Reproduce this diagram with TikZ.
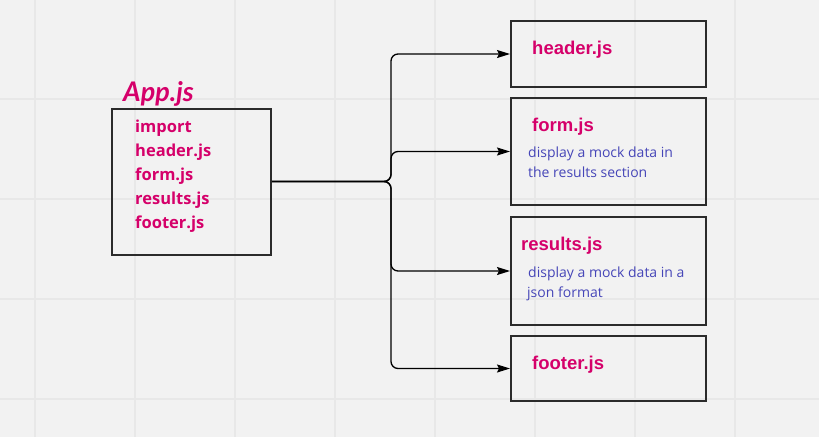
\documentclass[tikz,border=0pt]{standalone}
\usepackage{fontspec}
\usetikzlibrary{arrows.meta}
\newfontfamily\titlefont{Liberation Sans}
\newfontfamily\bodyfont{Open Sans}
\newfontfamily\handfont{Lato}

\definecolor{BoardGray}{HTML}{f2f2f2}
\definecolor{GridGray}{HTML}{e8e8e8}
\definecolor{BoxBorder}{HTML}{2b2b2b}
\definecolor{FilePink}{HTML}{d5006a}
\definecolor{NoteBlue}{HTML}{4646b8}

\tikzstyle{file-box}=[draw=BoxBorder, line width=2pt, minimum width=195pt, inner sep=0pt]
\tikzstyle{file-title}=[anchor=base west, inner sep=0pt, text=FilePink, font={\titlefont\bfseries\fontsize{18.5}{22}\selectfont}]
\tikzstyle{file-note}=[anchor=base west, inner sep=0pt, text=NoteBlue, font={\bodyfont\fontsize{14}{20}\selectfont}]
\tikzstyle{import-line}=[anchor=base west, inner sep=0pt, text=FilePink, font={\bodyfont\bfseries\fontsize{16.5}{24}\selectfont}]
\tikzstyle{link}=[draw=black, line width=1.3pt, rounded corners=7pt, -{Stealth[length=13pt, width=8pt, inset=2pt]}]

\begin{document}
\begin{tikzpicture}[x=1pt, y=-1pt]
      \fill[BoardGray] (0,0) rectangle (819,437);
      \useasboundingbox (0,0) rectangle (819,437);
      \foreach \x in {35,135,...,735} \draw[GridGray, line width=1.2pt] (\x,0) -- (\x,437);
      \foreach \y in {99,199,299,399} \draw[GridGray, line width=1.2pt] (0,\y) -- (819,\y);

      % main file
      \node (file-app) at (191.5,181.5) [file-box, minimum width=159pt, minimum height=146pt] {};
      \node (label-app) at (123,101) [anchor=base west, inner sep=0pt, text=FilePink, font={\handfont\bfseries\itshape\fontsize{27}{30}\selectfont}] {App.js};
      \node (app-import) at (135,132) [import-line] {import};
      \node (app-header) at (135,156) [import-line] {header.js};
      \node (app-form) at (135,180) [import-line] {form.js};
      \node (app-results) at (135,204) [import-line] {results.js};
      \node (app-footer) at (135,228) [import-line] {footer.js};

      % components
      \node (file-header) at (608.5,54) [file-box, minimum height=66pt] {};
      \node (file-form) at (608.5,151.5) [file-box, minimum height=107pt] {};
      \node (file-results) at (608.5,271) [file-box, minimum height=108pt] {};
      \node (file-footer) at (608.5,368.5) [file-box, minimum height=65pt] {};

      \node (title-header) at (532,54.5) [file-title] {header.js};
      \node (title-form) at (532,131) [file-title] {form.js};
      \node (note-form) at (528,157.5) [file-note] {display a mock data in};
      \node (note-form2) at (528,177) [file-note] {the results section};
      \node (title-results) at (521,250) [file-title] {results.js};
      \node (note-results) at (528,277) [file-note] {display a mock data in a};
      \node (note-results2) at (527,297) [file-note] {json format};
      \node (title-footer) at (532,369) [file-title] {footer.js};

      \coordinate (fork) at (391,181.5);
      \draw[link] (file-app.east) -- (fork) |- (file-header.west);
      \draw[link] (file-app.east) -- (fork) |- (file-form.west);
      \draw[link] (file-app.east) -- (fork) |- (file-results.west);
      \draw[link] (file-app.east) -- (fork) |- (file-footer.west);
    \end{tikzpicture}
\end{document}
